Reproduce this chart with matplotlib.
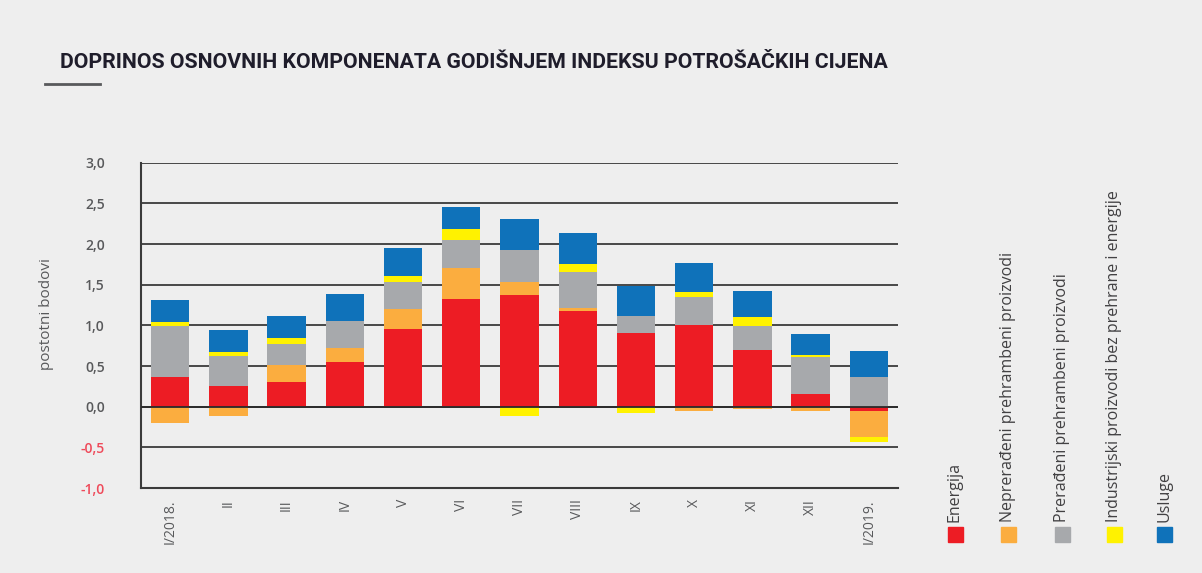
import numpy as np
import matplotlib
matplotlib.use("Agg")
import matplotlib.pyplot as plt
from matplotlib.patches import Rectangle
from matplotlib.lines import Line2D

plt.rcParams['font.family'] = ['Open Sans', 'DejaVu Sans']

mjeseci = ['I/2018.', 'II', 'III', 'IV', 'V', 'VI', 'VII', 'VIII', 'IX', 'X', 'XI', 'XII', 'I/2019.']

energija = [0.36, 0.25, 0.30, 0.55, 0.95, 1.33, 1.37, 1.18, 0.90, 1.00, 0.70, 0.15, -0.05]
neprerađeni = [-0.20, -0.11, 0.21, 0.17, 0.25, 0.37, 0.16, 0.03, 0.00, -0.05, -0.03, -0.05, -0.32]
prerađeni = [0.63, 0.37, 0.26, 0.33, 0.33, 0.35, 0.40, 0.44, 0.22, 0.35, 0.29, 0.46, 0.37]
industrijski = [0.05, 0.05, 0.08, 0.00, 0.08, 0.13, -0.11, 0.11, -0.08, 0.06, 0.11, 0.03, -0.07]
usluge = [0.27, 0.27, 0.27, 0.33, 0.34, 0.27, 0.38, 0.37, 0.36, 0.36, 0.32, 0.25, 0.31]

komponente = ['Energija', 'Neprerađeni prehrambeni proizvodi', 'Prerađeni prehrambeni proizvodi',
              'Industrijski proizvodi bez prehrane i energije', 'Usluge']
serije = [energija, neprerađeni, prerađeni, industrijski, usluge]
boje = ['#ed1c24', '#fbad3f', '#a7a9ac', '#fff200', '#0f72ba']

pozadina = '#eeeeee'
W, H = 1202, 573

fig = plt.figure(figsize=(W / 100, H / 100), dpi=100, facecolor=pozadina)
ax = fig.add_axes([141 / W, 1 - 488 / H, (898 - 141) / W, (488 - 162.7) / H])
ax.set_facecolor(pozadina)

x = np.arange(len(mjeseci))
poz = np.zeros(len(mjeseci))
neg = np.zeros(len(mjeseci))
for vrijednosti, boja in zip(serije, boje):
    v = np.array(vrijednosti)
    dno = np.where(v >= 0, poz, neg)
    ax.bar(x, v, 0.66, bottom=dno, color=boja, zorder=2, linewidth=0)
    poz += np.where(v >= 0, v, 0)
    neg += np.where(v < 0, v, 0)

ax.set_xlim(-0.5, len(mjeseci) - 0.5)
ax.set_ylim(-1.0, 3.0)
yt = np.arange(-1.0, 3.01, 0.5)
ax.set_yticks(yt)
ax.set_yticklabels([f'{t:.1f}'.replace('.', ',') for t in yt])
for lbl, t in zip(ax.get_yticklabels(), yt):
    lbl.set_color('#ef4a5a' if t < 0 else '#58595b')
    lbl.set_fontweight('semibold')
ax.tick_params(axis='y', length=0, pad=26, labelsize=10)
ax.set_xticks(x)
ax.set_xticklabels(mjeseci, rotation=90, fontsize=10, color='#58595b')
ax.tick_params(axis='x', length=0, pad=8)

for t in yt[1:]:
    ax.axhline(t, color='#3a3a3a', lw=1.3, zorder=1)
ax.axhline(0, color='#2a2a2a', lw=1.3, zorder=3)

for s in ['top', 'right']:
    ax.spines[s].set_visible(False)
for s in ['left', 'bottom']:
    ax.spines[s].set_color('#3a3a3a')
    ax.spines[s].set_linewidth(1.5)

fig.text(60 / W, 1 - 62 / H, 'DOPRINOS OSNOVNIH KOMPONENATA GODIŠNJEM INDEKSU POTROŠAČKIH CIJENA',
         fontsize=15.3, fontweight='bold', color='#1f1d2b', va='center', ha='left',
         family=['Roboto', 'DejaVu Sans'])
fig.add_artist(Line2D([45 / W, 100 / W], [1 - 84 / H, 1 - 84 / H], color='#58595b', lw=2))

fig.text(47 / W, 1 - 314 / H, 'postotni bodovi', rotation=90, fontsize=11, color='#58595b',
         ha='center', va='center')

# legenda: okomiti natpisi iznad kvadratica
centri = [955, 1008, 1062, 1114, 1164]
for c, naziv, boja in zip(centri, komponente, boje):
    fig.add_artist(Rectangle(((c - 7.5) / W, 1 - 542 / H), 15 / W, 15 / H,
                             color=boja, transform=fig.transFigure))
    fig.text(c / W, 1 - 522 / H, naziv, rotation=90, fontsize=11.5, color='#414042',
             ha='center', va='bottom')

fig.savefig('out.png', dpi=100, facecolor=pozadina)
